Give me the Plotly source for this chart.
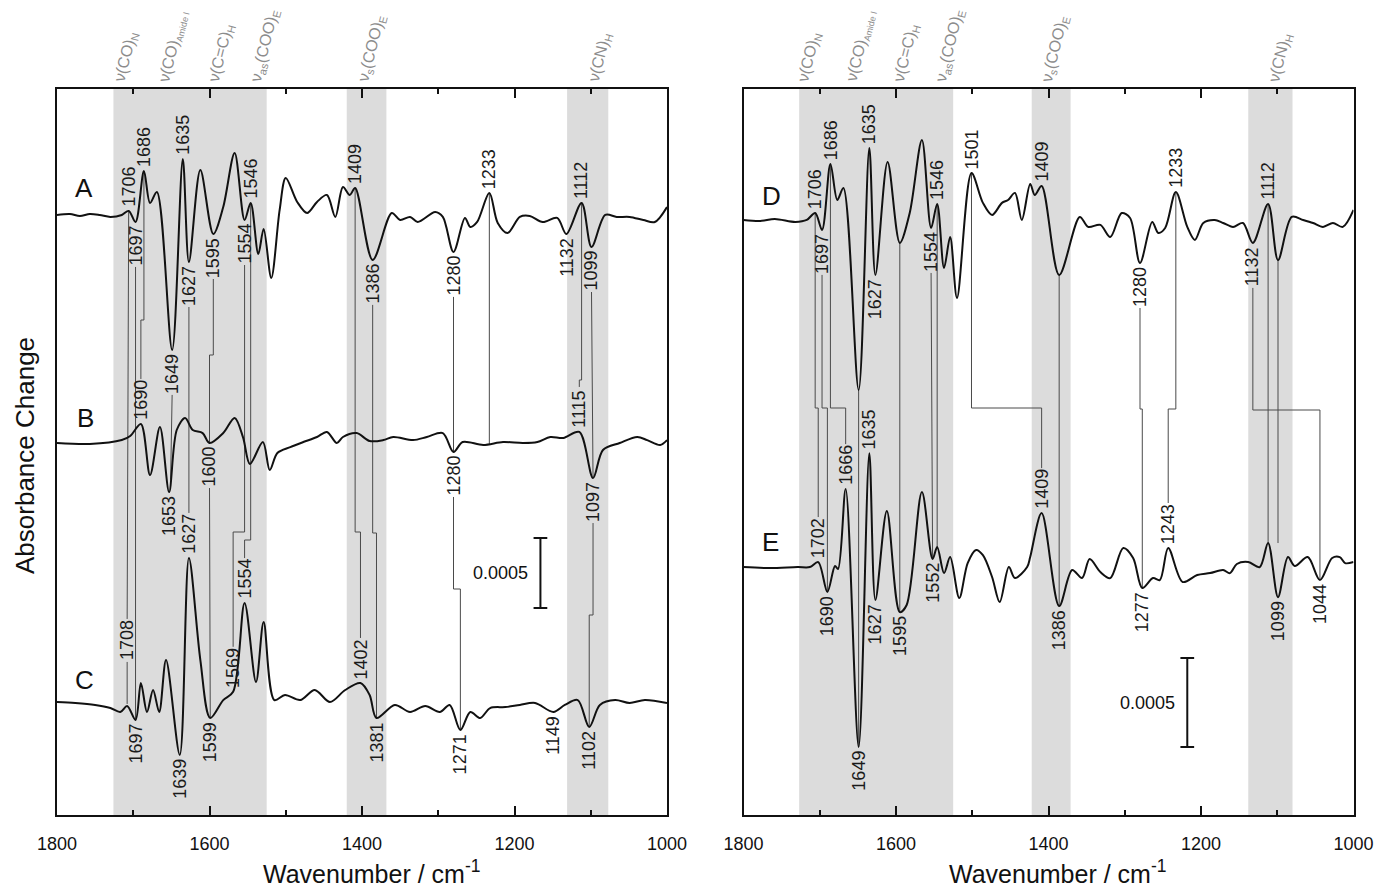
import numpy as np
import plotly.graph_objects as go

W, H = 1377, 891

# ---------------- data: wavenumber (cm-1) and absorbance change (x 1e-4) ----------------
A_wn = [1800, 1783, 1770, 1757, 1744, 1730, 1715, 1706, 1697, 1686, 1678, 1669, 1649, 1635, 1627, 1612,
        1595, 1582, 1567, 1554, 1546, 1536, 1529, 1519, 1508, 1500, 1485, 1472, 1459, 1446, 1435, 1425,
        1416, 1409, 1386, 1361, 1350, 1337, 1327, 1304, 1294, 1280, 1265, 1258, 1249, 1233, 1222, 1209,
        1193, 1180, 1163, 1144, 1132, 1112, 1099, 1081, 1066, 1049, 1031, 1016, 1000]
A_val = [0, 0.07, -0.07, 0.07, 0, -0.14, 0, 0.29, -0.5, 3.14, 0.86, 1.64, -9.64, 4.0, -3.36, 3.21,
         -1.36, 0.57, 4.43, -0.36, 0.86, -2.79, -1.0, -4.5, 0.36, 2.64, 0.93, 0.14, 0.93, 1.43, -0.14, 2.0,
         1.43, 1.93, -3.21, 0.14, -0.36, -0.14, -0.5, 0.21, -0.14, -2.64, -0.21, -0.86, -0.5, 1.57, -0.57, -1.29,
         -0.14, -0.07, -0.5, -0.21, -1.36, 0.86, -2.29, 0, -0.14, -0.14, -0.36, -0.5, 0.57]

B_wn = [1800, 1757, 1715, 1704, 1690, 1678, 1665, 1653, 1643, 1632, 1622, 1609, 1600, 1582, 1567, 1556,
        1547, 1530, 1521, 1511, 1494, 1477, 1459, 1446, 1433, 1425, 1407, 1390, 1372, 1359, 1333, 1315,
        1294, 1280, 1268, 1241, 1215, 1189, 1170, 1153, 1136, 1115, 1097, 1084, 1062, 1039, 1026, 1009, 1000]
B_val = [0, -0.07, 0.21, 0.5, 1.36, -2.29, 1.14, -3.5, 0.93, 1.79, 0.93, 0.71, 0, 0.71, 1.79, 0.4,
         -1.5, 0.07, -1.93, -0.71, -0.29, 0.07, 0.43, 0.79, 0, 0.43, 0.71, 0.14, 0.21, 0.43, 0.21, 0.43,
         0.71, -0.64, 0.07, -0.14, 0.07, 0, 0.07, 0.43, 0.36, 0.79, -2.5, -0.5, 0, 0.43, 0.21, -0.14, 0.21]

C_wn = [1800, 1776, 1750, 1730, 1717, 1708, 1697, 1690, 1682, 1674, 1666, 1657, 1639, 1627, 1612, 1599,
        1582, 1569, 1554, 1539, 1529, 1515, 1501, 1481, 1462, 1442, 1422, 1402, 1390, 1381, 1357, 1337,
        1317, 1298, 1285, 1271, 1258, 1245, 1232, 1212, 1193, 1173, 1149, 1134, 1117, 1102, 1088, 1068,
        1049, 1029, 1000]
C_val = [0.07, 0, -0.14, -0.36, -0.64, -0.21, -1.21, 1.43, -0.64, 0.93, -0.64, 3.07, -3.71, 10.36, 3.07, -1.07,
         0.21, 0.8, 7.14, 1.5, 5.79, 0.21, 0.57, 0.21, 0.93, 0.07, 0.93, 1.43, 0.57, -1.07, -0.14, -0.64,
         -0.21, -0.64, -0.14, -1.93, -0.64, -1.07, -0.36, -0.29, -0.14, 0, -0.64, -0.14, 0.21, -1.71, -0.14, 0.21,
         0, 0.21, 0]

D_wn = [1800, 1778, 1759, 1732, 1717, 1706, 1697, 1686, 1677, 1669, 1649, 1635, 1627, 1611, 1595, 1582,
        1566, 1554, 1546, 1537, 1529, 1520, 1501, 1486, 1474, 1461, 1453, 1444, 1435, 1424, 1418, 1409,
        1386, 1359, 1348, 1332, 1319, 1304, 1293, 1280, 1264, 1256, 1247, 1233, 1218, 1208, 1197, 1182,
        1171, 1158, 1145, 1132, 1112, 1099, 1081, 1066, 1053, 1040, 1027, 1014, 1000]
D_val = [0, -0.06, 0.06, -0.11, 0, 0.39, -0.56, 3.15, 1.12, 1.80, -9.55, 4.04, -3.09, 3.26, -1.29, 0.39,
         4.49, -0.45, 0.90, -2.70, -0.96, -4.38, 2.64, 0.96, 0.28, 0.96, 1.12, 1.52, 0, 2.02, 1.40, 1.91,
         -3.09, 0.17, -0.39, -0.28, -0.96, 0.39, 0.11, -2.42, -0.11, -0.73, -0.45, 1.57, -0.39, -1.12, -0.17, 0,
         -0.17, -0.39, -0.17, -1.29, 0.90, -2.25, 0.17, 0, -0.17, -0.39, -0.17, -0.39, 0.56]

E_wn = [1800, 1765, 1729, 1713, 1702, 1690, 1680, 1676, 1666, 1649, 1635, 1627, 1612, 1595, 1586, 1566,
        1552, 1546, 1537, 1529, 1517, 1506, 1495, 1486, 1474, 1464, 1452, 1444, 1428, 1424, 1409, 1386,
        1369, 1356, 1346, 1332, 1319, 1302, 1289, 1277, 1263, 1254, 1243, 1224, 1205, 1188, 1171, 1162,
        1153, 1138, 1123, 1112, 1099, 1086, 1077, 1060, 1044, 1028, 1018, 1011, 1000]
E_val = [0, -0.06, 0, 0, 0.28, -1.40, 0.06, -0.11, 4.38, -10.11, 6.40, -1.85, 3.15, -2.53, -2.13, 4.21,
         0.45, 1.12, -0.34, 0.56, -1.74, 0.22, 0.96, 0.67, -0.56, -1.97, 0, -0.62, 0, 0.56, 3.03, -2.19,
         -0.17, -0.62, 0.45, -0.28, -0.62, 1.07, 0.51, -1.18, -0.62, -0.73, 1.07, -0.84, -0.45, -0.34, -0.17, -0.34,
         0.17, 0.28, 0, 1.35, -1.69, 0.56, 0.06, 0.56, -0.73, 0.51, 0.56, 0.22, 0.28]

# peak labels (wavenumbers), above ("up") or below ("down") each trace
A_up = [1706, 1686, 1635, 1546, 1409, 1233, 1112]
A_down = [1697, 1649, 1627, 1595, 1554, 1386, 1280, 1132, 1099]
B_up = [1690, 1115]
B_down = [1653, 1600, 1280, 1097]
C_up = [1708, 1627, 1569, 1554, 1402]
C_down = [1697, 1639, 1599, 1381, 1271, 1149, 1102]
D_up = [1706, 1686, 1635, 1546, 1501, 1409, 1233, 1112]
D_down = [1697, 1627, 1554, 1280, 1132]
E_up = [1702, 1666, 1635, 1409, 1243]
E_down = [1690, 1649, 1627, 1595, 1552, 1386, 1277, 1099, 1044]


def sub(t, size=11):
    return '<sub><span style="font-size:%dpx">%s</span></sub>' % (size, t)


band_names = ["ν(CO)" + sub("N"), "ν(CO)" + sub("Amide I", 9), "ν(C=C)" + sub("H"),
              "ν" + sub("as") + "(COO)" + sub("E"), "ν" + sub("s") + "(COO)" + sub("E"), "ν(CN)" + sub("H")]
band_pos_L = [1709, 1648, 1584, 1527, 1387, 1088]
band_pos_R = [1713, 1647, 1586, 1529, 1391, 1096]
bands_L = [(1726, 1525), (1420, 1368), (1131, 1077)]
bands_R = [(1727, 1525), (1422, 1371), (1138, 1080)]

# ---------------- layout geometry ----------------
FONT = "Liberation Sans, Arial, Helvetica, sans-serif"
X_L = (57, 667)
X_R = (743.5, 1353.5)
Y_TOP, Y_BOT = 89, 815
PXU = {"L": 14.0, "R": 17.8}               # pixels per 1e-4 absorbance
YMAX = {p: (Y_BOT - Y_TOP) / PXU[p] for p in PXU}
OFF = {"A": 42.86, "B": 26.57, "C": 8.0, "D": 33.43, "E": 13.93}
REF = {"L": ("x", "y"), "R": ("x2", "y2")}
LABEL_SHIFT = {("C", 1708): 42}            # extra lift (px) for crowded labels

spectra = {"A": ("L", A_wn, A_val), "B": ("L", B_wn, B_val), "C": ("L", C_wn, C_val),
           "D": ("R", D_wn, D_val), "E": ("R", E_wn, E_val)}
labels = {}
for nm, ups, downs in [("A", A_up, A_down), ("B", B_up, B_down), ("C", C_up, C_down),
                       ("D", D_up, D_down), ("E", E_up, E_down)]:
    for w in ups:
        labels[(nm, w)] = "up"
    for w in downs:
        labels[(nm, w)] = "down"

GAP = 3
LLEN = 40


def yat(nm, wn):
    p, w, v = spectra[nm]
    w = np.array(w, float)[::-1]
    v = np.array(v, float)[::-1]
    return float(np.interp(wn, w, v)) + OFF[nm]


def label_base(nm, wn):
    p = spectra[nm][0]
    g = (GAP + LABEL_SHIFT.get((nm, wn), 0)) / PXU[p]
    y0 = yat(nm, wn)
    return y0 + g if labels[(nm, wn)] == "up" else y0 - g


def label_far(nm, wn):
    p = spectra[nm][0]
    ext = (LLEN + 2) / PXU[p]
    yb = label_base(nm, wn)
    return yb + ext if labels[(nm, wn)] == "up" else yb - ext


def end_y(ep):
    nm, wn, kind = ep
    return label_far(nm, wn) if kind == "label" else yat(nm, wn)


def py2y(p, py):
    return (Y_BOT - py) / PXU[p]


connectors = [
    ("L", ("A", 1706, "curve"), ("C", 1708, "label"), None),
    ("L", ("A", 1697, "label"), ("C", 1697, "curve"), None),
    ("L", ("A", 1686, "curve"), ("B", 1690, "label"), 320),
    ("L", ("A", 1649, "label"), ("B", 1651, "curve"), None),
    ("L", ("A", 1627, "label"), ("C", 1627, "label"), None),
    ("L", ("A", 1595, "label"), ("B", 1600, "curve"), 355),
    ("L", ("B", 1600, "label"), ("C", 1599, "curve"), None),
    ("L", ("A", 1554, "label"), ("C", 1569, "label"), 532),
    ("L", ("A", 1546, "curve"), ("C", 1554, "label"), 540),
    ("L", ("A", 1409, "curve"), ("C", 1402, "label"), 532),
    ("L", ("A", 1386, "label"), ("C", 1381, "curve"), 533),
    ("L", ("A", 1280, "label"), ("B", 1280, "curve"), None),
    ("L", ("B", 1280, "label"), ("C", 1271, "curve"), 589),
    ("L", ("A", 1233, "curve"), ("B", 1233, "curve"), None),
    ("L", ("A", 1112, "curve"), ("B", 1115, "label"), 380),
    ("L", ("A", 1099, "label"), ("B", 1097, "curve"), None),
    ("L", ("B", 1097, "label"), ("C", 1102, "curve"), 615),
    ("R", ("D", 1706, "curve"), ("E", 1702, "label"), 408),
    ("R", ("D", 1697, "label"), ("E", 1690, "curve"), 408),
    ("R", ("D", 1686, "curve"), ("E", 1666, "label"), 408),
    ("R", ("D", 1649, "curve"), ("E", 1649, "curve"), None),
    ("R", ("D", 1595, "curve"), ("E", 1595, "curve"), None),
    ("R", ("D", 1554, "label"), ("E", 1552, "curve"), None),
    ("R", ("D", 1546, "curve"), ("E", 1546, "curve"), None),
    ("R", ("D", 1501, "curve"), ("E", 1409, "label"), 408),
    ("R", ("D", 1386, "curve"), ("E", 1386, "curve"), None),
    ("R", ("D", 1280, "label"), ("E", 1277, "curve"), 409),
    ("R", ("D", 1233, "curve"), ("E", 1243, "label"), 409),
    ("R", ("D", 1132, "label"), ("E", 1044, "curve"), 410),
    ("R", ("D", 1112, "curve"), ("E", 1112, "curve"), None),
    ("R", ("D", 1099, "curve"), ("E", 1112, "curve"), None),
]

fig = go.Figure()
shapes = []
annotations = []

# shaded bands
for p, bl in (("L", bands_L), ("R", bands_R)):
    xr, yr = REF[p]
    for a, b in bl:
        shapes.append(dict(type="rect", xref=xr, yref=yr + " domain", x0=a, x1=b, y0=0, y1=1,
                           fillcolor="#dcdcdc", line=dict(width=0), layer="below"))

# connectors
for p in ("L", "R"):
    xs, ys = [], []
    for cp, e0, e1, jog in connectors:
        if cp != p:
            continue
        x0, y0 = e0[1], end_y(e0)
        x1, y1 = e1[1], end_y(e1)
        if e0[1] == 1099 and e1[1] == 1112:
            x1 = 1099
        if jog is None:
            xs += [x0, x1, None]
            ys += [y0, y1, None]
        else:
            yj = py2y(p, jog)
            xs += [x0, x0, x1, x1, None]
            ys += [y0, yj, yj, y1, None]
    if p == "L":
        xs += [1708, 1708, None]
        ys += [label_base("C", 1708) - 1 / PXU["L"], yat("C", 1708) + 2 / PXU["L"], None]
    xr, yr = REF[p]
    fig.add_trace(go.Scatter(x=xs, y=ys, mode="lines", line=dict(color="#4a4a4a", width=1),
                             xaxis=xr, yaxis=yr, hoverinfo="skip", showlegend=False))

# spectra
for nm, (p, w, v) in spectra.items():
    xr, yr = REF[p]
    fig.add_trace(go.Scatter(x=w, y=[val + OFF[nm] for val in v], mode="lines",
                             line=dict(color="#111111", width=2, shape="spline", smoothing=0.9),
                             xaxis=xr, yaxis=yr, name=nm, showlegend=False))

# peak labels
for (nm, wn), side in labels.items():
    p = spectra[nm][0]
    xr, yr = REF[p]
    annotations.append(dict(x=wn, y=label_base(nm, wn), xref=xr, yref=yr,
                            text=str(wn), textangle=-90, showarrow=False, xanchor="center",
                            yanchor="bottom" if side == "up" else "top", borderpad=0,
                            font=dict(family=FONT, size=18, color="#1a1a1a")))

# band assignments above the frames
for p, pos in (("L", band_pos_L), ("R", band_pos_R)):
    xr, yr = REF[p]
    for t, wpos in zip(band_names, pos):
        annotations.append(dict(x=wpos, y=1 - 85 / H, xref=xr, yref="paper", text=t, textangle=-76,
                                showarrow=False, xanchor="center", yanchor="bottom", borderpad=0,
                                font=dict(family=FONT, size=16, color="#8c8c8c")))

# trace letters
for nm, (px, py) in {"A": (84, 188), "B": (85, 418), "C": (84, 680), "D": (771, 196), "E": (770, 542)}.items():
    annotations.append(dict(x=px / W, y=1 - py / H, xref="paper", yref="paper", text=nm, showarrow=False,
                            xanchor="center", yanchor="middle", font=dict(family=FONT, size=26, color="#111")))

# scale bars (0.0005 = 5 units)
for p, wbar, ybot in (("L", 1166, py2y("L", 608)), ("R", 1218, py2y("R", 747))):
    xr, yr = REF[p]
    cap = 9.0
    shapes.append(dict(type="line", xref=xr, yref=yr, x0=wbar, x1=wbar, y0=ybot, y1=ybot + 5,
                       line=dict(color="#111", width=2)))
    for yy in (ybot, ybot + 5):
        shapes.append(dict(type="line", xref=xr, yref=yr, x0=wbar - cap, x1=wbar + cap, y0=yy, y1=yy,
                           line=dict(color="#111", width=2)))
    annotations.append(dict(x=wbar + 14, y=ybot + 2.5, xref=xr, yref=yr, text="0.0005", showarrow=False,
                            xanchor="right", yanchor="middle", font=dict(family=FONT, size=18, color="#111")))

# axis titles
annotations.append(dict(x=25 / W, y=1 - 456 / H, xref="paper", yref="paper", text="Absorbance Change",
                        textangle=-90, showarrow=False, xanchor="center", yanchor="middle",
                        font=dict(family=FONT, size=26, color="#111")))
for cx in (371, 1057):
    annotations.append(dict(x=cx / W, y=1 / H, xref="paper", yref="paper",
                            text="Wavenumber / cm<sup>-1</sup>", showarrow=False, xanchor="center",
                            yanchor="bottom", font=dict(family=FONT, size=25, color="#111")))


def xaxis(dom, anchor):
    return dict(domain=dom, range=[1800, 1000], anchor=anchor, tick0=1000, dtick=200, ticks="inside",
                ticklen=9, tickwidth=1.5, tickcolor="#111", showline=True, linewidth=1.5, linecolor="#111",
                mirror="allticks", showgrid=False, zeroline=False, automargin=False, ticklabelstandoff=12,
                tickfont=dict(family=FONT, size=18, color="#111"),
                minor=dict(dtick=100, ticks="inside", ticklen=5, tickwidth=1.5, tickcolor="#111", showgrid=False))


def yaxis(dom, rng, anchor):
    return dict(domain=dom, range=rng, anchor=anchor, showticklabels=False, ticks="", showline=True,
                linewidth=1.5, linecolor="#111", mirror=True, showgrid=False, zeroline=False, automargin=False)


ydom = [1 - Y_BOT / H, 1 - Y_TOP / H]
fig.update_layout(
    width=W, height=H, margin=dict(l=0, r=0, t=0, b=0, pad=0, autoexpand=False),
    paper_bgcolor="white", plot_bgcolor="white",
    xaxis=xaxis([X_L[0] / W, X_L[1] / W], "y"),
    yaxis=yaxis(ydom, [0, YMAX["L"]], "x"),
    xaxis2=xaxis([X_R[0] / W, X_R[1] / W], "y2"),
    yaxis2=yaxis(ydom, [0, YMAX["R"]], "x2"),
    shapes=shapes, annotations=annotations, showlegend=False,
    font=dict(family=FONT, color="#111"),
)

fig.write_html("out.html", config={"displayModeBar": False},
               post_script="document.body.style.margin='0';document.body.style.padding='0';")
